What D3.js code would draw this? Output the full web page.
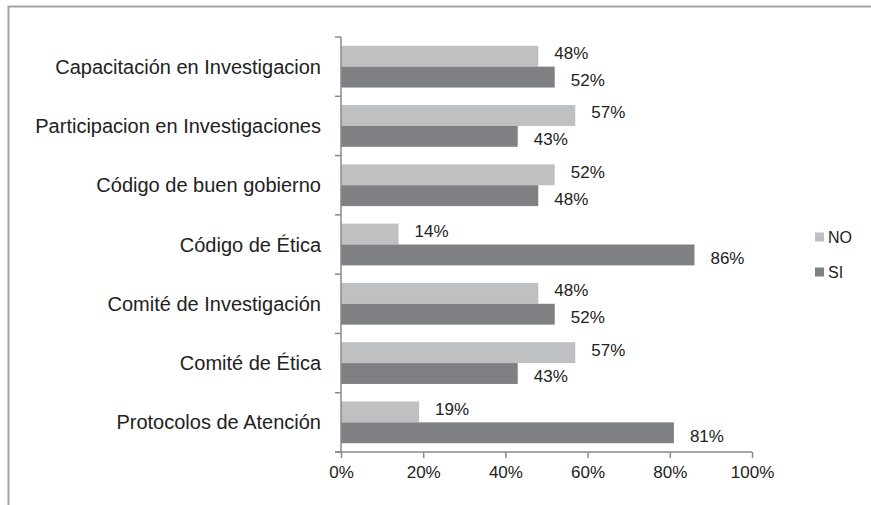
<!DOCTYPE html>
<html>
<head>
<meta charset="utf-8">
<script src="https://cdn.jsdelivr.net/npm/d3@7"></script>
<style>
  body { margin: 0; background: #fff; }
  text { font-family: "Liberation Sans", Arial, sans-serif; fill: #222; }
</style>
</head>
<body>
<svg id="chart" width="871" height="505"></svg>
<script>
var categories = ['Capacitación en Investigacion', 'Participacion en Investigaciones',
  'Código de buen gobierno', 'Código de Ética', 'Comité de Investigación',
  'Comité de Ética', 'Protocolos de Atención'];
var noValues = [48, 57, 52, 14, 48, 57, 19];
var siValues = [52, 43, 48, 86, 52, 43, 81];
var seriesNames = ['NO', 'SI'];
var tickValues = [0, 20, 40, 60, 80, 100];

var colors = {NO: '#bfc0c2', SI: '#7f8083'};
var svg = d3.select('#chart');

// frame
svg.append('rect')
  .attr('x', 8.5).attr('y', 6.5)
  .attr('width', 900).attr('height', 520)
  .style('fill', 'none').style('stroke', '#a5a5a8').style('stroke-width', 2);

var x = d3.scaleLinear().domain([0, 100]).range([341, 752]);
var y = d3.scaleBand().domain(categories).range([37, 452]);
var inner = d3.scaleBand().domain(seriesNames).range([0, y.bandwidth()]).paddingOuter(0.42).paddingInner(0);

var rows = categories.map(function(c, i){
  return {cat: c, vals: [{s: 'NO', v: noValues[i]}, {s: 'SI', v: siValues[i]}]};
});

var g = svg.append('g');
var groups = g.selectAll('g.row').data(rows).enter().append('g')
  .attr('class', 'row')
  .attr('transform', function(d){ return 'translate(0,' + y(d.cat) + ')'; });

groups.selectAll('rect').data(function(d){ return d.vals; }).enter().append('rect')
  .attr('x', x(0))
  .attr('y', function(d){ return inner(d.s); })
  .attr('width', function(d){ return x(d.v) - x(0); })
  .attr('height', inner.bandwidth())
  .style('fill', function(d){ return colors[d.s]; });

groups.selectAll('text.val').data(function(d){ return d.vals; }).enter().append('text')
  .attr('class', 'val')
  .attr('x', function(d){ return x(d.v) + 16; })
  .attr('y', function(d){ return inner(d.s) + inner.bandwidth()/2 + (d.s === 'NO' ? -3 : 3); })
  .attr('dy', '0.35em')
  .style('font-size', '17px')
  .text(function(d){ return d.v + '%'; });

// y axis
var yAxis = g.append('g').attr('transform', 'translate(' + x(0) + ',0)');
yAxis.append('line')
  .attr('x1', 0).attr('x2', 0).attr('y1', 37).attr('y2', 452)
  .style('stroke', '#8a8a8a').style('stroke-width', 1.5);
yAxis.selectAll('line.tick').data(d3.range(categories.length + 1)).enter().append('line')
  .attr('class', 'tick')
  .attr('x1', -6).attr('x2', 0)
  .attr('y1', function(i){ return 37 + i * y.step(); })
  .attr('y2', function(i){ return 37 + i * y.step(); })
  .style('stroke', '#8a8a8a').style('stroke-width', 1.5);
yAxis.selectAll('text').data(categories).enter().append('text')
  .attr('x', -20)
  .attr('y', function(d){ return y(d) + y.bandwidth()/2; })
  .attr('dy', '0.35em')
  .style('text-anchor', 'end')
  .style('font-size', '20px')
  .text(function(d){ return d; });

// x axis
var xAxis = g.append('g').attr('transform', 'translate(0,452)')
  .call(d3.axisBottom(x).tickValues(tickValues).tickSize(6).tickSizeOuter(0)
    .tickFormat(function(d){ return d + '%'; }));
xAxis.select('.domain').attr('d', 'M' + (x(0) - 6) + ',0H' + x(100))
  .style('stroke', '#8a8a8a').style('stroke-width', 1.5);
xAxis.selectAll('.tick line').style('stroke', '#8a8a8a').style('stroke-width', 1.5);
xAxis.selectAll('.tick text')
  .attr('y', 14)
  .style('font-size', '17px')
  .style('font-family', '"Liberation Sans", Arial, sans-serif')
  .style('fill', '#222');

// legend
var legend = svg.append('g').attr('transform', 'translate(815,237)');
var items = legend.selectAll('g').data(seriesNames).enter().append('g')
  .attr('transform', function(d, i){ return 'translate(0,' + (i * 35) + ')'; });
items.append('rect')
  .attr('x', 0).attr('y', -4.5).attr('width', 9).attr('height', 9)
  .style('fill', function(d){ return colors[d]; });
items.append('text')
  .attr('x', 13).attr('dy', '0.35em')
  .style('font-size', '16px')
  .text(function(d){ return d; });
</script>
</body>
</html>
